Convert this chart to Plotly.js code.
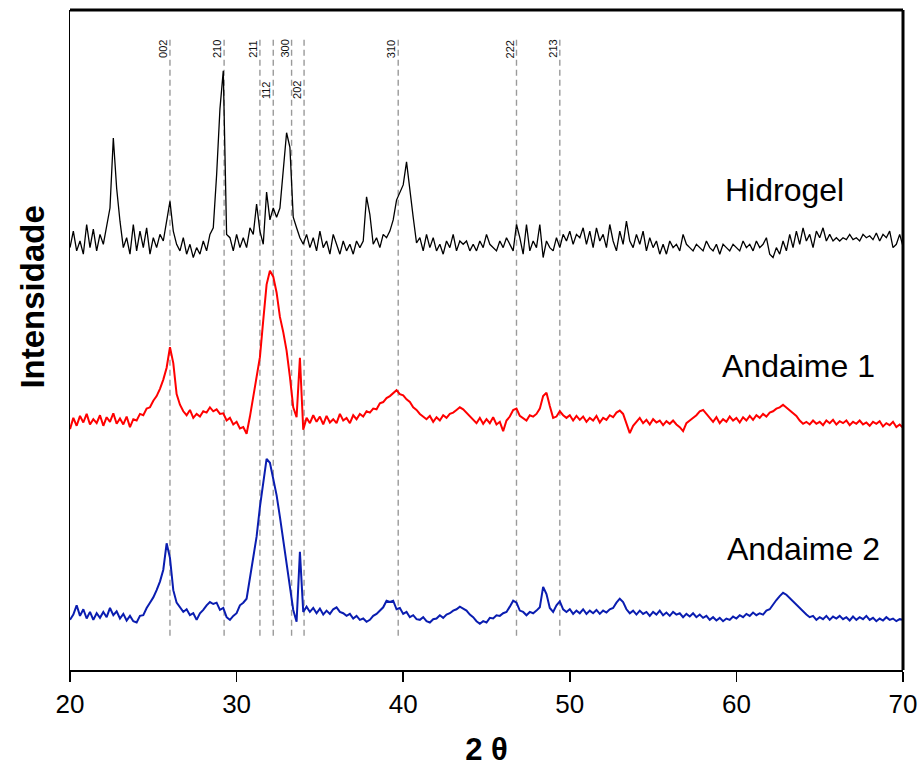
<!DOCTYPE html>
<html>
<head>
<meta charset="utf-8">
<script src="https://cdn.plot.ly/plotly-3.0.1.min.js"></script>
<style>html,body{margin:0;padding:0;background:#fff;}</style>
</head>
<body>
<div id="chart" style="width:923px;height:775px;"></div>
<script>
// 2θ sampling: start 20°, step 0.2° (251 points, 20–70°)
const twoThetaStart = 20;
const twoThetaStep = 0.2;

const hidrogel = [
64,66.5,63.5,65,63,67.5,64,66.8,63.5,66,64.5,67.5,70,80.6,73,68,64,65.5,63,67.5,
63.5,66.5,64,67,63,65.5,64,66,65,68,71,66.5,64.5,63.5,65.5,63,64.5,62.5,64,63,
65,63.5,66,67,75,85,90.8,66,65.5,63.5,66,64,65.5,64,67,66,70.6,66.5,64.5,72.4,
68.2,70,68.6,70,76.2,81.4,79.2,68.6,67,65.5,64.5,66,64,65.5,63.5,66.5,64,65,63,66,
64.5,63,65,63.5,64.5,63,65,64,65,71.7,69,64.5,65.5,64,66,65.5,66.5,68.2,71.2,72.4,
73.5,77,73.2,68.6,64.7,65.5,63.5,66,64,65.5,63.5,64.5,63,65,64,66,63.5,65,64.5,65,
63.5,64.5,63.5,65,64,66,64.5,64,63.5,65,64,65.5,64.5,63.5,67.5,65.5,63,67.5,63.5,65,
64,67.5,62.5,65,64,63.5,65.5,64,66,65,66.5,64.5,66,65.5,67,64.5,66.5,64,67,65,
66,64,67.5,65,63.5,66.5,64.5,68,65,64,66,64.5,66.5,63.5,65.5,64,65,63,64.5,63,
65,64,64.5,63.5,66,64.5,64,63.5,64.5,64,63.5,65,64,63.5,64.5,63,64.5,64,63.5,64.5,
64,63.5,65,64,64.5,63.5,65,64,64.5,65.5,63,62.5,64,63,65,63.5,66,64,66.5,64.5,
67,65,66,64,66.5,65.5,67,65,66,65,65.5,65,65.5,65.2,66,65.2,65.5,65,66,65.5,
65.8,65.2,66.2,65,66,65.5,66.5,64,64.5,66,64.2
];

const andaime1 = [
36.5,38.2,37,38.5,37.5,38.8,37.2,38,37.4,38.6,37,38.3,37.6,38.9,37.3,38.1,37.2,38.4,36.8,38,
37.8,38.8,38.6,39.6,39.8,40.8,41.5,42.6,44,45.8,48.9,46.5,41.8,40.2,39.2,38.6,39.4,38.2,38.8,38.4,
39.2,39,39.8,39.2,39.5,38.8,38.9,37.8,38.2,37.2,37.6,36.6,36.8,35.8,38.4,41.5,44.6,47.4,53,58.4,
60.5,59.6,57.2,53.5,51.2,48.4,44.4,39.8,38.3,47.3,36.4,38.2,37.4,38.6,37.6,38.4,37.2,38.5,37.5,38,
37.4,38.8,37.8,38.2,37.4,38.6,38,38.8,38.4,39.2,39,39.6,39.5,40.4,40.6,41.2,41.5,42,42.4,41.8,
41.6,41,40.6,39.8,39.4,38.8,38.4,38,38.5,37.6,38.3,37.8,38.6,38.2,38.8,39,39.4,39.8,39.5,39,
38.5,38,37.4,38.2,37.3,38,37.4,38.3,37.2,37.6,36.2,37.8,38.4,39.4,39.6,38.5,38.2,37.8,38.6,38.4,
38.8,39.6,41.5,42,40,38.2,38.4,39.2,38.6,38.2,38.6,37.8,38.5,37.9,38.4,37.6,38.2,37.8,38.5,37.5,
38.2,37.9,38.6,38.3,39,39.3,38.8,37.5,35.9,37,37.6,38.2,37.4,37.9,37.2,38,37.5,37.8,37.1,37.7,
37.3,37.8,37.2,36.8,36.2,37.4,37.8,38.2,38.6,39.2,39.4,38.8,38.2,37.6,38.3,37.4,38,37.6,38.4,37.8,
38.2,37.5,38.3,37.8,38.5,37.9,38.6,38.2,38.8,38.4,39,39.2,39.6,39.8,40.2,39.8,39.4,38.9,38.5,37.8,
37.3,37.6,37.2,37.8,37.3,37.6,37.1,37.8,37.4,37.9,37.2,37.7,37.4,37.8,37.1,37.6,37.3,37.8,37.2,37.5,
37,37.6,37.3,37.7,36.9,37.4,37.1,37.6,36.8,37.2,36.7
];

const andaime2 = [
7.6,8.4,9.8,8.2,9.2,7.8,8.8,7.6,8.6,7.9,8.8,8,9.4,8.3,8.9,7.8,8.5,7.5,8.2,7.4,
7.2,8.2,8.3,9.4,10.2,11,12.1,13.4,15.2,19.2,17,12.1,10.2,9.4,8.8,9.2,8.3,8.6,7.6,8.6,
9.1,9.8,10.3,10,10.2,9.1,9.4,8,7.6,8.2,8.6,9.8,10.2,10.8,14.1,17.1,20.2,24.7,28.8,32,
31.4,28.8,26.5,23.2,19.7,16.2,12.6,9.1,7.3,17.9,8.8,9.6,8.8,9.4,8.6,9.3,8.4,9,8.5,9.2,
9.5,8.8,8.6,8.2,8.5,7.8,8.2,7.6,7.8,7.3,7.6,8.2,8.5,9,9.5,10.5,10.3,10.5,9.2,9.4,
8.5,8.8,8,8.3,7.7,7.6,8,7.4,7.2,7.7,7.8,8.3,7.9,8.4,8.6,9,9.2,9.6,9.3,9,
8.4,8,7.4,7,7.4,7.2,7.9,7.8,8.3,8.2,8.6,8.8,9.6,10.5,10.2,9,8.8,8.3,8.8,8.6,
9,9.5,12.6,11.5,9.4,8.8,9.8,10.4,9.2,8.8,9.2,8.5,9,8.6,9.2,8.5,9,8.6,9.1,8.5,
9,8.7,9.2,9.4,10.2,10.8,10.3,9.2,8.6,9,8.4,9,8.5,8.8,8.2,8.8,8.4,9,8.3,8.7,
8.2,8.8,8.4,8.6,8,8.5,8.1,8.6,8,8.4,7.9,8.2,7.6,8,7.5,7.9,7.4,7.8,7.6,8.1,
7.8,8.3,8,8.5,8.2,8.7,8.3,8.6,8.4,9,9.2,10,10.6,11.2,11.7,11.4,10.9,10.4,9.9,9.4,
8.8,8.4,8,8.2,7.6,8,7.7,8.2,7.6,8.1,7.8,8.2,7.7,8,7.5,8.1,7.6,8,7.7,8.2,
7.6,7.9,7.4,7.8,7.5,8,7.6,7.8,7.4,7.7,7.6
];

const seriesNames = ['Hidrogel', 'Andaime 1', 'Andaime 2'];
const seriesColors = ['#000000', '#ff0000', '#0a1db0'];

// Miller indices and their reference 2θ positions
const hklLabels = ['002', '210', '211', '112', '300', '202', '310', '222', '213'];
const hklPos    = [26.0, 29.25, 31.4, 32.2, 33.3, 34.05, 39.7, 46.8, 49.4];

const xTicks = [20, 30, 40, 50, 60, 70];

const FONT = 'Liberation Sans, Arial, sans-serif';

const traces = [
  {y: hidrogel, x0: twoThetaStart, dx: twoThetaStep, type: 'scatter', mode: 'lines',
   line: {color: seriesColors[0], width: 1.3}, name: seriesNames[0]},
  {y: andaime1, x0: twoThetaStart, dx: twoThetaStep, type: 'scatter', mode: 'lines',
   line: {color: seriesColors[1], width: 2}, name: seriesNames[1]},
  {y: andaime2, x0: twoThetaStart, dx: twoThetaStep, type: 'scatter', mode: 'lines',
   line: {color: seriesColors[2], width: 2}, name: seriesNames[2]}
];

const shapes = [];
hklPos.forEach(p => {
  shapes.push({type: 'line', xref: 'x', yref: 'y', x0: p, x1: p, y0: 5.2, y1: 95.5,
    line: {color: '#9a9a9a', width: 1.4, dash: '6px,4px'}, layer: 'below'});
});
// heavy top and right frame
shapes.push({type: 'line', xref: 'paper', yref: 'paper', x0: 0, x1: 1, y0: 1, y1: 1,
  line: {color: '#000', width: 3}});
shapes.push({type: 'line', xref: 'paper', yref: 'paper', x0: 1, x1: 1, y0: 0, y1: 1,
  line: {color: '#000', width: 3}});

const lowered = ['112', '202'];
const annotations = hklLabels.map((t, i) => ({
  x: hklPos[i], y: lowered.includes(t) ? 87.9 : 94.1, xref: 'x', yref: 'y',
  text: t, showarrow: false, textangle: -90, xanchor: 'center', yanchor: 'middle',
  xshift: -7, font: {family: FONT, size: 11, color: '#111'}
}));

const seriesLabelPos = [[62.9, 72.7], [63.7, 46.0], [64.0, 18.3]];
seriesNames.forEach((n, i) => {
  annotations.push({x: seriesLabelPos[i][0], y: seriesLabelPos[i][1], xref: 'x', yref: 'y',
    text: n, showarrow: false, xanchor: 'center', yanchor: 'middle',
    font: {family: FONT, size: 32, color: '#000'}});
});

annotations.push({x: -0.045, y: 0.565, xref: 'paper', yref: 'paper', text: '<b>Intensidade</b>',
  textangle: -90, showarrow: false, xanchor: 'center', yanchor: 'middle',
  font: {family: FONT, size: 33, color: '#000'}});

const layout = {
  width: 923, height: 775,
  margin: {l: 70, r: 20, t: 10, b: 105},
  paper_bgcolor: '#fff', plot_bgcolor: '#fff',
  showlegend: false,
  xaxis: {
    range: [20, 70], tickvals: xTicks, ticktext: xTicks.map(String),
    ticks: 'outside', ticklen: 10, tickwidth: 1.5, tickcolor: '#000',
    showline: true, linecolor: '#000', linewidth: 1.5,
    showgrid: false, zeroline: false,
    tickfont: {family: FONT, size: 26, color: '#000'},
    title: {text: '<b>2 θ</b>', font: {family: FONT, size: 31, color: '#000'}, standoff: 20}
  },
  yaxis: {
    range: [0, 100], showticklabels: false, ticks: '',
    showline: true, linecolor: '#000', linewidth: 1.5,
    showgrid: false, zeroline: false
  },
  shapes: shapes,
  annotations: annotations
};

Plotly.newPlot('chart', traces, layout, {staticPlot: true, displayModeBar: false});
</script>
</body>
</html>
